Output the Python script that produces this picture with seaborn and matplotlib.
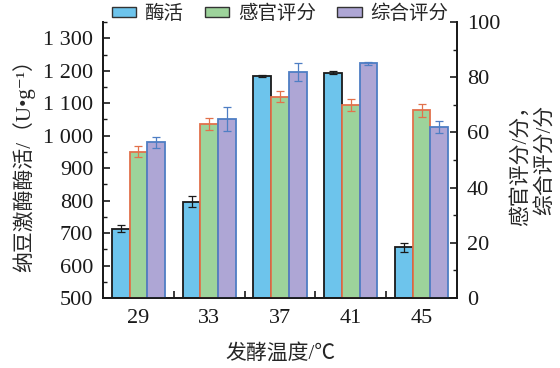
import matplotlib
matplotlib.use("Agg")
import matplotlib.pyplot as plt
import matplotlib.ticker as mticker
from matplotlib.patches import Patch
from matplotlib.container import BarContainer
import seaborn as sns
import pandas as pd

temps = ["29", "33", "37", "41", "45"]
series = ["酶活", "感官评分", "综合评分"]
enzyme = [714, 797, 1184, 1194, 656]
enzyme_err = [12, 17, 3, 5, 15]
sensory = [53, 63, 73, 70, 68]
sensory_err = [2, 2.2, 2, 2.2, 2.4]
overall = [56.5, 65, 82, 85, 62]
overall_err = [2, 4.3, 3.2, 0.5, 2.2]

fills = {"酶活": "#6DC4EC", "感官评分": "#9DD39B", "综合评分": "#AEA6D5"}
edges = {"酶活": "#1A1A1A", "感官评分": "#E2714B", "综合评分": "#4E7EC4"}

sns.set_theme(style="ticks")
plt.rcParams['font.family'] = ['Liberation Serif', 'Noto Sans CJK SC', 'DejaVu Serif', 'DejaVu Sans']

df_left = pd.DataFrame({"temp": temps, "series": "酶活", "value": enzyme, "err": enzyme_err})
df_right = pd.concat([
    pd.DataFrame({"temp": temps, "series": "感官评分", "value": sensory, "err": sensory_err}),
    pd.DataFrame({"temp": temps, "series": "综合评分", "value": overall, "err": overall_err}),
])

fig = plt.figure(figsize=(5.6, 3.68), dpi=100)
ax = fig.add_axes([0.184, 0.19, 0.632, 0.75])
ax2 = ax.twinx()

sns.barplot(data=df_left, x="temp", y="value", hue="series", hue_order=series,
            order=temps, palette=fills, width=0.75, errorbar=None, ax=ax,
            legend=False, saturation=1, dodge=True)
sns.barplot(data=df_right, x="temp", y="value", hue="series", hue_order=series,
            order=temps, palette=fills, width=0.75, errorbar=None, ax=ax2,
            legend=False, saturation=1, dodge=True)

def decorate(axis, df, names):
    conts = [c for c in axis.containers if isinstance(c, BarContainer) and len(c) > 0]
    for cont, lab in zip(conts, names):
        sub = df[df["series"] == lab].set_index("temp")
        xs, ys = [], []
        for bar in cont:
            bar.set_edgecolor(edges[lab])
            bar.set_linewidth(1.3)
            xs.append(bar.get_x() + bar.get_width() / 2)
            ys.append(bar.get_y() + bar.get_height())
        es = list(sub.loc[temps, "err"])[:len(xs)]
        axis.errorbar(xs, ys, yerr=es, fmt="none", ecolor=edges[lab],
                      elinewidth=0.9, capsize=3, capthick=0.9, zorder=5)

decorate(ax, df_left, ["酶活"])
decorate(ax2, df_right, ["感官评分", "综合评分"])

ax.set_xlim(-0.5, 4.5)
ax.set_ylim(500, 1350)
ax2.set_ylim(0, 100)

ax.yaxis.set_major_locator(mticker.FixedLocator([500, 600, 700, 800, 900, 1000, 1100, 1200, 1300]))
ax.yaxis.set_minor_locator(mticker.MultipleLocator(50))
ax.yaxis.set_major_formatter(mticker.FuncFormatter(
    lambda v, p: f"{int(v):,}".replace(",", " ")))
ax2.yaxis.set_major_locator(mticker.MultipleLocator(20))
ax2.yaxis.set_minor_locator(mticker.MultipleLocator(10))
ax.xaxis.set_minor_locator(mticker.FixedLocator([0.5, 1.5, 2.5, 3.5]))

for a in (ax, ax2):
    a.spines["top"].set_visible(False)
    for s in a.spines.values():
        s.set_linewidth(1.3)
        s.set_color("#1A1A1A")
    a.tick_params(which="both", direction="in", colors="#1A1A1A", labelsize=16)
    a.tick_params(which="major", length=5, width=1.2)
    a.tick_params(which="minor", length=3, width=1.0)
ax.tick_params(axis="y", which="major", pad=7)
ax2.tick_params(axis="y", which="major", pad=7)
ax.tick_params(axis="x", which="major", length=0, pad=8)
ax.tick_params(axis="x", which="minor", length=5, width=1.2)

ax.set_xlabel("发酵温度/℃", fontsize=15, labelpad=11)
ax.set_ylabel("纳豆激酶酶活/（U•g⁻¹）", fontsize=15, labelpad=6)
ax2.set_ylabel("感官评分/分，\n综合评分/分", fontsize=15, labelpad=8, linespacing=1.25)
ax.grid(False)
ax2.grid(False)

handles = [Patch(facecolor=fills[s], edgecolor="#333333", linewidth=1.0, label=s) for s in series]
fig.legend(handles=handles, loc="center", bbox_to_anchor=(0.5, 0.963), ncol=3,
           frameon=False, fontsize=14, handlelength=1.25, handleheight=0.45,
           handletextpad=0.45, columnspacing=1.1)

fig.savefig("out.png", dpi=100)
